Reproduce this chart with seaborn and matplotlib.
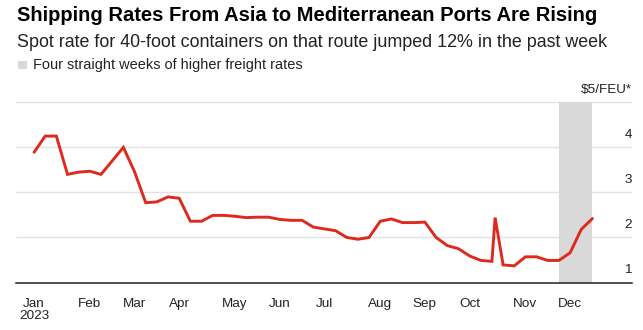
import matplotlib
matplotlib.use("Agg")
import matplotlib.pyplot as plt
import matplotlib.patches as mpatches
import seaborn as sns
import pandas as pd

# ---- data ----
dates = ["2023-01-01", "2023-01-08", "2023-01-15", "2023-01-22", "2023-01-29",
         "2023-02-05", "2023-02-12", "2023-02-19", "2023-02-26",
         "2023-03-05", "2023-03-12", "2023-03-19", "2023-03-26",
         "2023-04-02", "2023-04-09", "2023-04-16", "2023-04-23", "2023-04-30",
         "2023-05-07", "2023-05-14", "2023-05-21", "2023-05-28",
         "2023-06-04", "2023-06-11", "2023-06-18", "2023-06-25",
         "2023-07-02", "2023-07-09", "2023-07-16", "2023-07-23", "2023-07-30",
         "2023-08-06", "2023-08-13", "2023-08-20", "2023-08-27",
         "2023-09-03", "2023-09-10", "2023-09-17", "2023-09-24",
         "2023-10-01", "2023-10-08", "2023-10-15", "2023-10-17", "2023-10-22", "2023-10-29",
         "2023-11-05", "2023-11-12", "2023-11-19", "2023-11-26",
         "2023-12-03", "2023-12-10", "2023-12-17"]
rates = [3.89, 4.25, 4.25, 3.40, 3.45,
         3.47, 3.40, 3.70, 4.00,
         3.46, 2.77, 2.79, 2.90,
         2.87, 2.36, 2.36, 2.49, 2.49,
         2.47, 2.44, 2.45, 2.45,
         2.40, 2.38, 2.38, 2.23,
         2.19, 2.15, 2.00, 1.96, 2.00,
         2.36, 2.41, 2.33, 2.33,
         2.34, 2.00, 1.82, 1.75,
         1.59, 1.49, 1.47, 2.44, 1.39, 1.37,
         1.57, 1.57, 1.49, 1.49,
         1.66, 2.18, 2.42]
highlight_start = "2023-11-26"
highlight_end = "2023-12-17"
tick_dates = ["2023-01-01", "2023-02-05", "2023-03-05", "2023-04-02", "2023-05-07",
              "2023-06-04", "2023-07-02", "2023-08-06", "2023-09-03", "2023-10-01",
              "2023-11-05", "2023-12-03"]
tick_labels = ["Jan\n2023", "Feb", "Mar", "Apr", "May", "Jun", "Jul", "Aug",
               "Sep", "Oct", "Nov", "Dec"]
y_ticks = [1, 2, 3, 4, 5]
y_labels = ["1", "2", "3", "4", "$5/FEU*"]

title = "Shipping Rates From Asia to Mediterranean Ports Are Rising"
subtitle = "Spot rate for 40-foot containers on that route jumped 12% in the past week"
legend_label = "Four straight weeks of higher freight rates"

# ---- style ----
sns.set_style("white")
plt.rcParams["font.family"] = ["Liberation Sans", "DejaVu Sans"]

W, H = 643, 330
fig = plt.figure(figsize=(W / 100, H / 100), dpi=100)
ymax = 5.02
ax = fig.add_axes([16 / W, 47.5 / H, (632 - 16) / W, (4.02 * 45.05) / H])

df = pd.DataFrame({"date": pd.to_datetime(dates), "rate": rates})

ax.axvspan(pd.Timestamp(highlight_start), pd.Timestamp(highlight_end),
           ymin=0, ymax=(5 - 1) / (ymax - 1), color="#d9d9d9", lw=0, zorder=1)
for v in y_ticks[1:]:
    ax.axhline(v, color="#e2e2e2", lw=1.0, zorder=0.5)

sns.lineplot(data=df, x="date", y="rate", ax=ax, color="#dd2a1f", lw=2.1,
             zorder=3, solid_joinstyle="miter")

ax.set_ylim(1, ymax)
ax.set_xlim(pd.Timestamp("2022-12-20 17:00"), pd.Timestamp("2024-01-10 19:00"))
ax.set_xlabel("")
ax.set_ylabel("")
ax.set_yticks([])
ax.set_xticks(pd.to_datetime(tick_dates))
ax.set_xticklabels(tick_labels, fontsize=9.7, color="#222222", linespacing=1.08)
ax.tick_params(axis="x", length=4, width=1, color="#777777", pad=7, direction="out")
for s in ["top", "right", "left"]:
    ax.spines[s].set_visible(False)
ax.spines["bottom"].set_color("#222222")
ax.spines["bottom"].set_linewidth(1.1)
ax.spines["bottom"].set_zorder(4)

# y labels sitting above gridlines at the right edge
for v, lab in zip(y_ticks, y_labels):
    ax.annotate(lab, xy=(1.0, v), xycoords=("axes fraction", "data"),
                xytext=(0, 6.5), textcoords="offset points",
                ha="right", va="baseline", fontsize=9.7, color="#222222")

# header texts
def fy(py):
    return 1 - py / H

t1 = fig.text(16.7 / W, fy(20.7), title, fontsize=14, fontweight="bold",
              color="#000000", va="baseline", ha="left")
t2 = fig.text(16.7 / W, fy(46.7), subtitle, fontsize=11, color="#222222",
              va="baseline", ha="left")
t3 = fig.text(32.7 / W, fy(69), legend_label, fontsize=9, color="#222222",
              va="baseline", ha="left")
fig.patches.append(mpatches.Rectangle((18.3 / W, fy(69.3)), 8.4 / W, 8.3 / H,
                                      transform=fig.transFigure, color="#d9d9d9", lw=0))

fig.canvas.draw()
r = fig.canvas.get_renderer()
for t, target in [(t1, 581), (t2, 589), (t3, 270)]:
    w = t.get_window_extent(r).width
    t.set_fontsize(t.get_fontsize() * target / w)

fig.savefig("out.png", dpi=100, facecolor="white")
